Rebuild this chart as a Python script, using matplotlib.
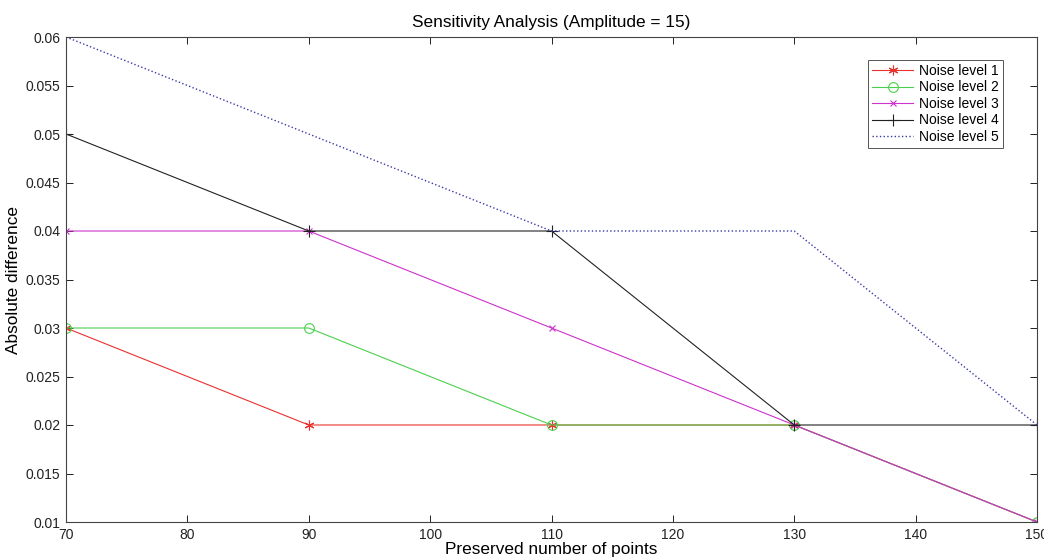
import numpy as np
import matplotlib
matplotlib.use('Agg')
import matplotlib.pyplot as plt

plt.rcParams['font.family'] = ['Liberation Sans', 'DejaVu Sans']

# preserved number of points and the absolute difference at each noise level
points = [70, 90, 110, 130, 150]
noise1 = [0.03, 0.02, 0.02, 0.02, 0.01]
noise2 = [0.03, 0.03, 0.02, 0.02, 0.01]
noise3 = [0.04, 0.04, 0.03, 0.02, 0.01]
noise4 = [0.05, 0.04, 0.04, 0.02, 0.02]
noise5 = [0.06, 0.05, 0.04, 0.04, 0.02]

fig = plt.figure(figsize=(10.44, 5.58), dpi=100)
ax = fig.add_axes([66/1044, 1 - 522/558, (1037-66)/1044, (522-37)/558])

lw = 0.8
asterisk = (6, 2, 0)
ax.plot(points, noise1, color='#e8322e', marker=asterisk, ms=7, mew=0.8, lw=lw, label='Noise level 1')
ax.plot(points, noise2, color='#4ccf4c', marker='o', ms=7, mfc='none', mew=0.8, lw=lw, label='Noise level 2')
ax.plot(points, noise3, color='#cc33cc', marker='x', ms=5, mew=0.8, lw=lw, label='Noise level 3')
ax.plot(points, noise4, color='#222222', marker='+', ms=8, mew=0.8, lw=lw, label='Noise level 4')
ax.plot(points, noise5, color='#3a3aa8', ls=':', lw=1.0, label='Noise level 5')

ax.set_xlim(70, 150)
ax.set_ylim(0.01, 0.06)
ax.set_xticks(np.arange(70, 151, 10))
ax.set_yticks(np.arange(0.01, 0.0601, 0.005))
ax.set_yticklabels(['0.01', '0.015', '0.02', '0.025', '0.03', '0.035', '0.04',
                    '0.045', '0.05', '0.055', '0.06'])
ax.tick_params(direction='in', top=True, right=True, length=5, width=0.7,
               labelsize=10, colors='#222222')
ax.tick_params(axis='x', pad=4)
ax.tick_params(axis='y', pad=4)
for s in ax.spines.values():
    s.set_linewidth(0.8)
    s.set_color('#444444')

ax.set_title('Sensitivity Analysis (Amplitude = 15)', fontsize=12.4, pad=7)
ax.set_xlabel('Preserved number of points', fontsize=12.4, labelpad=0)
ax.set_ylabel('Absolute difference', fontsize=12.4, labelpad=3)

leg = ax.legend(loc='upper right', bbox_to_anchor=(0.965, 0.953), fontsize=10,
                fancybox=False, framealpha=1, edgecolor='#555555',
                handlelength=3.0, borderpad=0.3, labelspacing=0.18,
                handletextpad=0.4, borderaxespad=0)
leg.get_frame().set_linewidth(0.7)

fig.savefig('out.png', dpi=100)
